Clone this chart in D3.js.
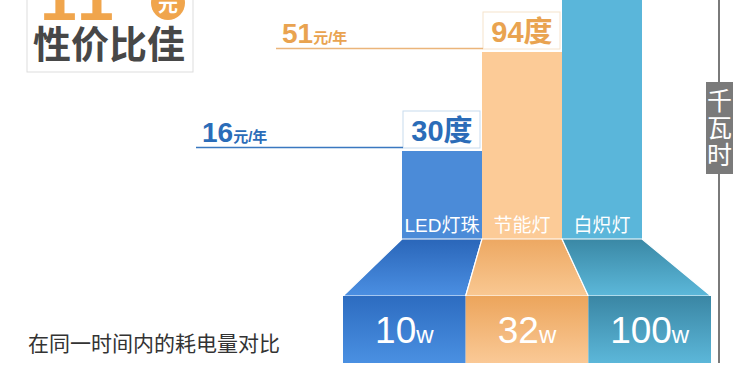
<!DOCTYPE html>
<html>
<head>
<meta charset="utf-8">
<script src="https://cdn.jsdelivr.net/npm/d3@7"></script>
<style>
  body { margin: 0; background: #fff; }
  svg { display: block; font-family: "Liberation Sans", Arial, "Noto Sans CJK SC", sans-serif; }
</style>
</head>
<body>
<div id="chart"></div>
<script>
var width = 750, height = 387;

// data
var lamps = ['LED灯珠', '节能灯', '白炽灯'];
var watts = [10, 32, 100];
var kwh = [30, 94, 292];        // 度 per year (incandescent runs off the top)
var yuan = [16, 51, 158];       // 元/年
var shownPrices = 2;            // only first two are labelled

// palette
var barColor = ['#4b8bd8', '#fccb97', '#5ab6da'];
var trapTop = ['#2a66b9', '#eda862', '#3a88a5'];
var trapBot = ['#4b8fe2', '#f9c892', '#5cb8da'];
var frontTop = ['#2d6cc0', '#eca55c', '#3a86a4'];
var frontBot = ['#4a90e2', '#fac996', '#5cb7d9'];
var textColor = ['#2b6cb8', '#e9a350', '#3a88a5'];

var svg = d3.select('#chart').append('svg')
    .attr('width', width).attr('height', height);

var defs = svg.append('defs');
function grad(id, c1, c2) {
  var g = defs.append('linearGradient').attr('id', id)
      .attr('x1', 0).attr('y1', 0).attr('x2', 0).attr('y2', 1);
  g.append('stop').attr('offset', '0%').attr('stop-color', c1);
  g.append('stop').attr('offset', '100%').attr('stop-color', c2);
}
lamps.forEach(function(d, i){
  grad('trap' + i, trapTop[i], trapBot[i]);
  grad('front' + i, frontTop[i], frontBot[i]);
});

// scales
var baseY = 239, trapBottom = 296, frontBottom = 363;
var x = d3.scaleBand().domain(lamps).range([402, 642]).padding(0);
var xf = d3.scaleBand().domain(lamps).range([343, 711]).padding(0);
var y = d3.scalePow().exponent(0.66).domain([0, 94]).range([baseY, 52]);

// tall bars
svg.selectAll('rect.bar').data(lamps).enter().append('rect')
    .attr('class', 'bar')
    .attr('x', function(d){ return x(d); })
    .attr('y', function(d, i){ return y(kwh[i]); })
    .attr('width', x.bandwidth())
    .attr('height', function(d, i){ return baseY - y(kwh[i]); })
    .attr('fill', function(d, i){ return barColor[i]; });

// category labels
svg.selectAll('text.cat').data(lamps).enter().append('text')
    .attr('class', 'cat')
    .attr('x', function(d){ return x(d) + x.bandwidth() / 2; })
    .attr('y', 232)
    .attr('text-anchor', 'middle')
    .attr('fill', '#fff')
    .attr('font-size', 19)
    .text(function(d){ return d; });

// slanted floor
svg.selectAll('path.trap').data(lamps).enter().append('path')
    .attr('class', 'trap')
    .attr('d', function(d){
      return 'M' + x(d) + ',' + baseY + 'L' + (x(d) + x.bandwidth()) + ',' + baseY +
        'L' + (xf(d) + xf.bandwidth()) + ',' + trapBottom + 'L' + xf(d) + ',' + trapBottom + 'Z';
    })
    .attr('fill', function(d, i){ return 'url(#trap' + i + ')'; })
    .attr('stroke', '#fff').attr('stroke-width', 1.2);

// front boxes
svg.selectAll('rect.front').data(lamps).enter().append('rect')
    .attr('class', 'front')
    .attr('x', function(d){ return xf(d); })
    .attr('y', trapBottom)
    .attr('width', xf.bandwidth())
    .attr('height', frontBottom - trapBottom)
    .attr('fill', function(d, i){ return 'url(#front' + i + ')'; });

// wattage labels
var wt = svg.selectAll('text.watt').data(lamps).enter().append('text')
    .attr('class', 'watt')
    .attr('x', function(d){ return xf(d) + xf.bandwidth() / 2; })
    .attr('y', 343)
    .attr('text-anchor', 'middle')
    .attr('fill', '#fff');
wt.append('tspan').attr('font-size', 37).text(function(d, i){ return watts[i]; });
wt.append('tspan').attr('font-size', 24).text('w');

// kwh boxes + price lines
var labelled = lamps.slice(0, shownPrices);
var lab = svg.selectAll('g.lab').data(labelled).enter().append('g').attr('class', 'lab');

lab.append('rect')
    .attr('x', function(d){ return x(d) + 1; })
    .attr('y', function(d, i){ return y(kwh[i]) - 40; })
    .attr('width', x.bandwidth() - 3)
    .attr('height', 37)
    .attr('fill', '#fff')
    .attr('stroke', function(d, i){ return i === 0 ? '#c8dbee' : '#f6e3cc'; });

lab.append('text')
    .attr('x', function(d){ return x(d) + x.bandwidth() / 2; })
    .attr('y', function(d, i){ return y(kwh[i]) - 10; })
    .attr('text-anchor', 'middle')
    .attr('font-size', 29).attr('font-weight', 'bold')
    .attr('fill', function(d, i){ return textColor[i]; })
    .text(function(d, i){ return kwh[i] + '度'; });

lab.append('line')
    .attr('x1', function(d){ return x(d) - 206; })
    .attr('x2', function(d){ return x(d) + 1; })
    .attr('y1', function(d, i){ return y(kwh[i]) - 3.5; })
    .attr('y2', function(d, i){ return y(kwh[i]) - 3.5; })
    .attr('stroke', function(d, i){ return i === 0 ? '#3a78c0' : '#ebb57a'; })
    .attr('stroke-width', 1.5);

var pt = lab.append('text')
    .attr('x', function(d){ return x(d) - 200; })
    .attr('y', function(d, i){ return y(kwh[i]) - 9; })
    .attr('font-weight', 'bold')
    .attr('fill', function(d, i){ return textColor[i]; });
pt.append('tspan').attr('font-size', 28).text(function(d, i){ return yuan[i]; });
pt.append('tspan').attr('font-size', 15).text('元/年');

// right axis
svg.append('line')
    .attr('x1', 719).attr('x2', 719).attr('y1', 0).attr('y2', frontBottom)
    .attr('stroke', '#7a7a7a').attr('stroke-width', 2);
svg.append('rect')
    .attr('x', 706).attr('y', 82).attr('width', 27).attr('height', 92)
    .attr('fill', '#7a7a7a');
svg.selectAll('text.unit').data(['千', '瓦', '时']).enter().append('text')
    .attr('class', 'unit')
    .attr('x', 719.5)
    .attr('y', function(d, i){ return 110 + i * 27; })
    .attr('text-anchor', 'middle')
    .attr('fill', '#fff').attr('font-size', 25)
    .text(function(d){ return d; });

// title block
svg.append('rect')
    .attr('x', 27).attr('y', -2).attr('width', 166).attr('height', 74)
    .attr('fill', '#fff').attr('stroke', '#dddddd');
svg.append('text')
    .attr('x', 40).attr('y', 20)
    .attr('font-size', 66).attr('font-weight', 'bold')
    .attr('fill', '#f0a54c').attr('letter-spacing', 4)
    .text('11');
svg.append('circle')
    .attr('cx', 168).attr('cy', 3).attr('r', 17)
    .attr('fill', '#f0a54c');
svg.append('text')
    .attr('x', 168).attr('y', 12)
    .attr('text-anchor', 'middle')
    .attr('font-size', 20).attr('font-weight', 'bold').attr('fill', '#fff')
    .text('元');
svg.append('text')
    .attr('x', 33).attr('y', 58)
    .attr('font-size', 38).attr('font-weight', 'bold')
    .attr('fill', '#474747')
    .text('性价比佳');

svg.append('text')
    .attr('x', 28).attr('y', 351)
    .attr('font-size', 21)
    .attr('fill', '#333')
    .text('在同一时间内的耗电量对比');
</script>
</body>
</html>
